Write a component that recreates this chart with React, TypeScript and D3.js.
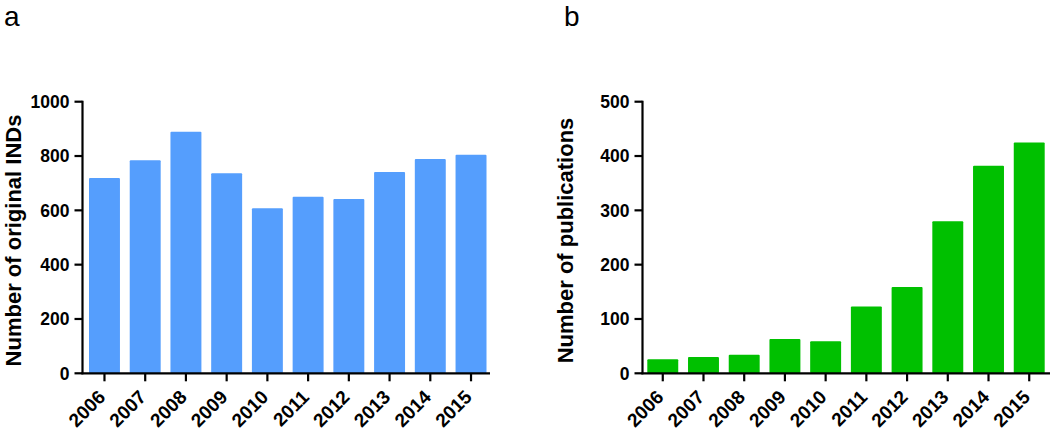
import React from "react";
import * as d3 from "d3";

const years = ["2006","2007","2008","2009","2010","2011","2012","2013","2014","2015"];
const indValues = [719, 784, 889, 737, 608, 650, 642, 741, 789, 805];
const pubValues = [26, 30, 34, 63, 59, 123, 159, 280, 382, 425];
const indTicks = [0, 200, 400, 600, 800, 1000];
const pubTicks = [0, 100, 200, 300, 400, 500];

const FONT = "'Liberation Sans', Arial, sans-serif";

type PanelProps = {
  axisX: number; axisEnd: number; barStart: number; barEnd: number;
  values: number[]; max: number; ticks: number[]; color: string;
  title: string; titleX: number; letter: string; letterX: number;
};

function Panel(p: PanelProps) {
  const y0 = 373.3, y1 = 101.7;
  const x = d3.scaleBand<string>().domain(years).range([p.barStart, p.barEnd]).paddingInner(0.24).paddingOuter(0);
  const y = d3.scaleLinear().domain([0, p.max]).range([y0, y1]);
  const bw = x.bandwidth();
  return (
    <g>
      <text x={p.letterX} y={25.5} fontFamily={FONT} fontSize={28} fill="#000">{p.letter}</text>
      {years.map((yr, i) => (
        <rect key={yr} x={x(yr)} y={y(p.values[i])} width={bw} height={y0 - y(p.values[i])} fill={p.color} rx={1} />
      ))}
      {/* y axis */}
      <line x1={p.axisX} x2={p.axisX} y1={y1 - 1} y2={y0 + 1} stroke="#000" strokeWidth={2.2} />
      {p.ticks.map(t => (
        <g key={t}>
          <line x1={p.axisX - 8} x2={p.axisX} y1={y(t)} y2={y(t)} stroke="#000" strokeWidth={2.2} />
          <text x={p.axisX - 13} y={y(t)} dy="0.36em" textAnchor="end" fontFamily={FONT} fontWeight="bold" fontSize={17.5}>{t}</text>
        </g>
      ))}
      {/* x axis */}
      <line x1={p.axisX - 1} x2={p.axisEnd} y1={y0} y2={y0} stroke="#000" strokeWidth={2.2} />
      {years.map(yr => {
        const cx = (x(yr) as number) + bw / 2;
        return (
          <g key={yr}>
            <line x1={cx} x2={cx} y1={y0} y2={y0 + 8} stroke="#000" strokeWidth={2.2} />
            <text transform={`translate(${cx + 2},${y0 + 25}) rotate(-45)`} textAnchor="end" fontFamily={FONT} fontWeight="bold" fontSize={19}>{yr}</text>
          </g>
        );
      })}
      <text transform={`translate(${p.titleX},${(y0 + y1) / 2 + 3}) rotate(-90)`} textAnchor="middle" fontFamily={FONT} fontWeight="bold" fontSize={22}>{p.title}</text>
    </g>
  );
}

export default function App() {
  return (
    <svg width={1050} height={432} style={{ position: "absolute", left: 0, top: 0, background: "#fff" }}>
      <rect width={1050} height={432} fill="#fff" />
      <Panel axisX={82.5} axisEnd={490} barStart={89} barEnd={486.5} values={indValues} max={1000} ticks={indTicks}
        color="#559EFD" title="Number of original INDs" titleX={20.5} letter="a" letterX={4} />
      <Panel axisX={642.5} axisEnd={1050} barStart={647.3} barEnd={1044.7} values={pubValues} max={500} ticks={pubTicks}
        color="#00C000" title="Number of publications" titleX={573} letter="b" letterX={564} />
    </svg>
  );
}
